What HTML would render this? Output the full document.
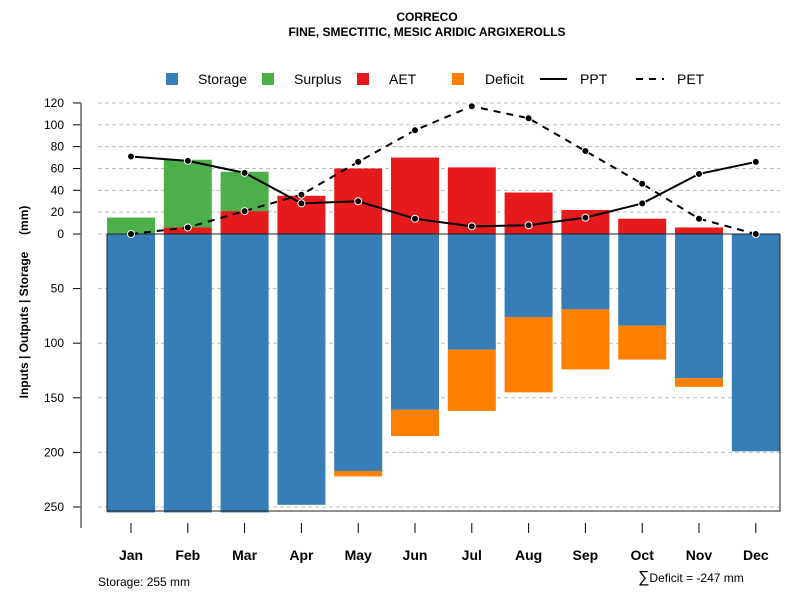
<!DOCTYPE html>
<html><head><meta charset="utf-8"><style>
body{margin:0;background:#fff}
svg{font-family:"Liberation Sans",Arial,sans-serif}
</style></head><body>
<svg id="c" width="800" height="600" xmlns="http://www.w3.org/2000/svg">
<text x="427" y="21" text-anchor="middle" font-size="12" font-weight="bold">CORRECO</text>
<text x="427" y="36" text-anchor="middle" font-size="12" font-weight="bold">FINE, SMECTITIC, MESIC ARIDIC ARGIXEROLLS</text>
<g id="legend" font-size="14">
<g><rect x="166" y="73" width="12" height="12" fill="#377eb8"/><text x="198" y="84">Storage</text></g>
<g><rect x="262" y="73" width="12" height="12" fill="#4daf4a"/><text x="294" y="84">Surplus</text></g>
<g><rect x="357" y="73" width="12" height="12" fill="#e41a1c"/><text x="389" y="84">AET</text></g>
<g><rect x="452" y="73" width="12" height="12" fill="#ff7f00"/><text x="485" y="84">Deficit</text></g>
<g><line x1="540" y1="79" x2="567" y2="79" stroke="#000" stroke-width="2"/><text x="580" y="84">PPT</text></g>
<g><line x1="636" y1="79" x2="664" y2="79" stroke="#000" stroke-width="2" stroke-dasharray="7,6"/><text x="677" y="84">PET</text></g>
</g>
<text transform="translate(28,302) rotate(-90)" text-anchor="middle" font-size="12" font-weight="bold">Inputs | Outputs | Storage&#160;&#160;&#160;&#160;&#160;(mm)</text>
<g id="grid"></g><g id="bars"></g><g id="axes"></g><g id="lines"></g>
<text x="98" y="586" font-size="12">Storage: 255 mm</text>
<text x="638" y="582" font-size="12"><tspan font-size="16">∑</tspan>Deficit = -247 mm</text>
</svg>
<script>
const months=["Jan","Feb","Mar","Apr","May","Jun","Jul","Aug","Sep","Oct","Nov","Dec"];
const storage=[255,255,255,248,217,161,106,76,69,84,132,199];
const deficit=[0,0,0,0,5,24,56,69,55,31,8,0];
const aet=[0,6,21,35,60,70,61,38,22,14,6,0];
const surplus=[15,62,36,0,0,0,0,0,0,0,0,0];
const ppt=[71,67,56,28,30,14,7,8,15,28,55,66];
const pet=[0,6,21,36,66,95,117,106,76,46,14,0];
const posTicks=[0,20,40,60,80,100,120];
const negTicks=[50,100,150,200,250];
const NS="http://www.w3.org/2000/svg";
const y0=234,k=1.092;
function y(v){return y0-v*k;}
function x(i){return 131+i*56.8;}
const bw=48;
function mk(t,a,p){const e=document.createElementNS(NS,t);for(const n in a)e.setAttribute(n,a[n]);document.getElementById(p).appendChild(e);return e;}
posTicks.concat(negTicks.map(v=>-v)).forEach(v=>{
 const g=mk('line',{x1:98,x2:780,y1:y(v),y2:y(v),stroke:'#bbb','stroke-dasharray':'4,3'},'grid');
 
 
 const t=mk('line',{x1:73,x2:81,y1:y(v),y2:y(v),stroke:'#000'},'axes');
 
 
 const l=mk('text',{x:64,y:y(v)+4,'text-anchor':'end','font-size':12},'axes');
 l.textContent=Math.abs(v);
 
 
});
const ax=mk('line',{x1:81,x2:81,y1:y(120),y2:528,stroke:'#666','stroke-width':1.5},'axes');


months.forEach((m,i)=>{
 const cx=x(i);
 function bar(v0,v1,c,n){const top=Math.min(y(v0),y(v1)),h=Math.abs(y(v1)-y(v0));if(h<=0)return;
  const r=mk('rect',{x:cx-bw/2,y:top,width:bw,height:h,fill:c},'bars');
  
  }
 bar(0,-storage[i],'#377eb8','bar-storage-'+m.toLowerCase());
 bar(-storage[i],-storage[i]-deficit[i],'#ff7f00','bar-deficit-'+m.toLowerCase());
 bar(0,aet[i],'#e41a1c','bar-aet-'+m.toLowerCase());
 bar(aet[i],aet[i]+surplus[i],'#4daf4a','bar-surplus-'+m.toLowerCase());
 const t=mk('line',{x1:cx,x2:cx,y1:523,y2:533,stroke:'#000'},'axes');
 
 
 const l=mk('text',{x:cx,y:560,'text-anchor':'middle','font-size':14,'font-weight':'bold'},'axes');
 l.textContent=m;
 
 
});
const box=mk('path',{d:`M107,${y0}V511H780V${y0}`,fill:'none',stroke:'#222'},'bars');


const zl=mk('line',{x1:107,x2:780,y1:y0,y2:y0,stroke:'#222'},'bars');


function series(d,dash,n){
 const p=mk('polyline',{points:d.map((v,i)=>x(i)+','+y(v)).join(' '),fill:'none',stroke:'#000','stroke-width':2,'stroke-dasharray':dash},'lines');
 
 
 d.forEach((v,i)=>{const c=mk('circle',{cx:x(i),cy:y(v),r:3.5,fill:'#000',stroke:'#fff','stroke-width':1},'lines');
  
  });
}
series(ppt,'none','ppt');
series(pet,'7,6','pet');
</script>
</body></html>
